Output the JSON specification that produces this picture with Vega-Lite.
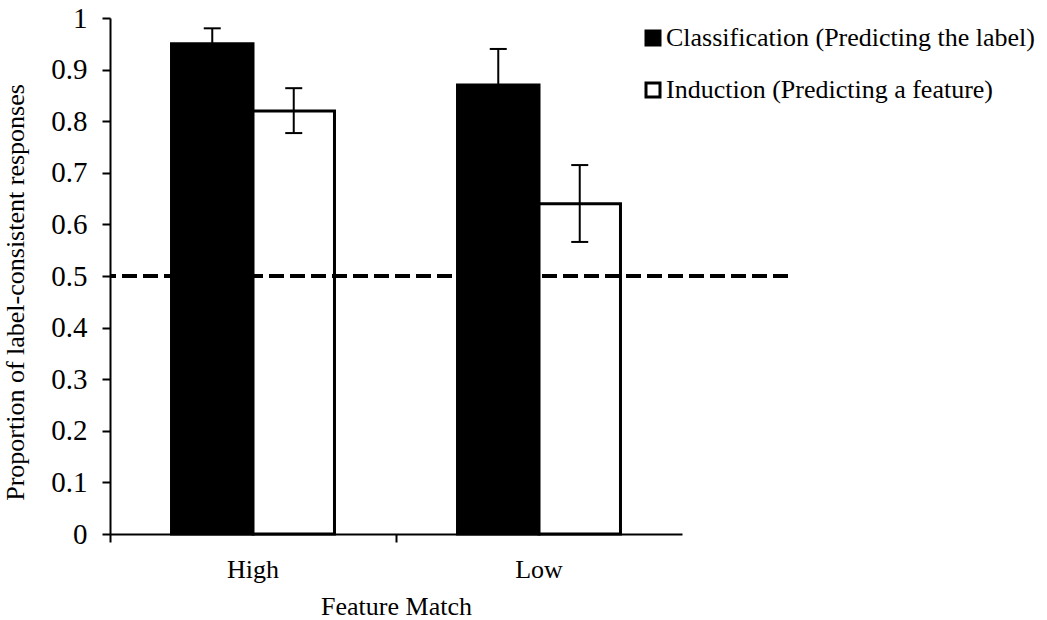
{
  "$schema": "https://vega.github.io/schema/vega-lite/v6.json",
  "width": 678,
  "height": 516,
  "autosize": {"type": "none"},
  "padding": {"left": 110, "top": 18, "right": 259, "bottom": 86},
  "background": "white",
  "config": {
    "view": {"stroke": null},
    "font": "Liberation Serif",
    "axis": {"grid": false, "domainColor": "black", "tickColor": "black", "labelColor": "black", "titleColor": "black", "domainWidth": 2, "tickWidth": 2, "tickSize": 8, "labelFont": "Liberation Serif", "titleFont": "Liberation Serif", "labelFontSize": 26, "titleFontSize": 26, "titleFontWeight": "normal"},
    "legend": {"labelFont": "Liberation Serif", "labelFontSize": 26, "labelColor": "black", "labelLimit": 0}
  },
  "datasets": {
    "bars": [
      {"match": "High", "task": "Classification (Predicting the label)", "prop": 0.95, "lo": 0.92, "hi": 0.98},
      {"match": "High", "task": "Induction (Predicting a feature)", "prop": 0.82, "lo": 0.777, "hi": 0.864},
      {"match": "Low", "task": "Classification (Predicting the label)", "prop": 0.87, "lo": 0.80, "hi": 0.94},
      {"match": "Low", "task": "Induction (Predicting a feature)", "prop": 0.64, "lo": 0.566, "hi": 0.715}
    ],
    "chance": [{"level": 0.5}]
  },
  "layer": [
    {
      "data": {"name": "bars"},
      "mark": {"type": "bar", "stroke": "black", "strokeWidth": 3},
      "encoding": {
        "x": {"field": "match", "type": "nominal", "scale": {"domain": ["High", "Low"], "range": [0, 572], "paddingInner": 0, "paddingOuter": 0},
              "axis": {"title": "Feature Match", "labelAngle": 0, "bandPosition": 0, "labelPadding": 14, "titlePadding": 11}},
        "xOffset": {"field": "task", "type": "nominal", "scale": {"domain": ["Classification (Predicting the label)", "Induction (Predicting a feature)"], "paddingInner": 0, "paddingOuter": 0.755}},
        "y": {"field": "prop", "type": "quantitative", "scale": {"domain": [0, 1], "nice": false},
              "axis": {"title": "Proportion of label-consistent responses", "values": [0, 0.1, 0.2, 0.3, 0.4, 0.5, 0.6, 0.7, 0.8, 0.9, 1], "format": ".1~f", "labelFontSize": 29, "labelPadding": 15, "titleFontSize": 26, "titleX": -82, "titleY": 274}},
        "fill": {"field": "task", "type": "nominal", "scale": {"domain": ["Classification (Predicting the label)", "Induction (Predicting a feature)"], "range": ["black", "white"]},
                 "legend": {"title": null, "orient": "none", "legendX": 530, "legendY": 7, "symbolType": "square", "symbolSize": 196, "symbolStrokeColor": "black", "symbolStrokeWidth": 3, "rowPadding": 26, "labelOffset": 0}}
      }
    },
    {
      "data": {"name": "bars"},
      "mark": {"type": "rule", "color": "black", "strokeWidth": 2},
      "encoding": {
        "x": {"field": "match", "type": "nominal"},
        "xOffset": {"field": "task", "type": "nominal"},
        "y": {"field": "lo", "type": "quantitative"},
        "y2": {"field": "hi"}
      }
    },
    {
      "data": {"name": "bars"},
      "mark": {"type": "tick", "color": "black", "thickness": 2, "size": 17, "opacity": 1},
      "encoding": {
        "x": {"field": "match", "type": "nominal"},
        "xOffset": {"field": "task", "type": "nominal"},
        "y": {"field": "lo", "type": "quantitative"}
      }
    },
    {
      "data": {"name": "bars"},
      "mark": {"type": "tick", "color": "black", "thickness": 2, "size": 17, "opacity": 1},
      "encoding": {
        "x": {"field": "match", "type": "nominal"},
        "xOffset": {"field": "task", "type": "nominal"},
        "y": {"field": "hi", "type": "quantitative"}
      }
    },
    {
      "data": {"name": "chance"},
      "mark": {"type": "rule", "color": "black", "strokeWidth": 4, "strokeDash": [15, 6]},
      "encoding": {
        "y": {"field": "level", "type": "quantitative"}
      }
    }
  ]
}
